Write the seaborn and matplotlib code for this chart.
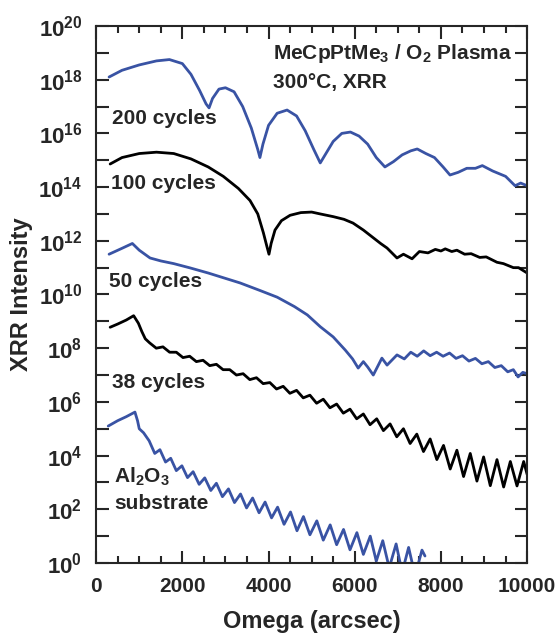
import numpy as np
import pandas as pd
import matplotlib
matplotlib.use("Agg")
import matplotlib.pyplot as plt
import seaborn as sns
from matplotlib.ticker import FixedLocator, MultipleLocator, NullFormatter

# values: omega (arcsec) and log10(intensity)
c200_x = [300, 600, 1000, 1400, 1700, 2000, 2200, 2400, 2550, 2620, 2700, 2850, 3000, 3200, 3400,
          3600, 3750, 3800, 3870, 4000, 4200, 4430, 4650, 4850, 5050, 5200, 5350, 5500, 5700, 5900,
          6100, 6300, 6500, 6700, 6900, 7100, 7300, 7450, 7650, 7850, 8050, 8210, 8400, 8600, 8800,
          8960, 9200, 9500, 9720, 9850, 10000]
c200_log = [18.1, 18.35, 18.55, 18.7, 18.75, 18.6, 18.2, 17.6, 17.1, 16.95, 17.3, 17.65, 17.7, 17.55, 17.0,
            16.2, 15.4, 15.1, 15.6, 16.3, 16.75, 16.87, 16.65, 16.1, 15.4, 14.9, 15.3, 15.7, 16.0, 16.05,
            15.9, 15.6, 15.1, 14.75, 14.95, 15.2, 15.35, 15.42, 15.25, 15.1, 14.75, 14.45, 14.55, 14.7, 14.7,
            14.8, 14.6, 14.4, 14.05, 14.15, 14.05]

c100_x = [325, 600, 1000, 1400, 1800, 2200, 2600, 2950, 3300, 3570, 3750, 3880, 3960, 4010, 4060,
          4150, 4300, 4500, 4750, 5000, 5200, 5500, 5750, 5960, 6200, 6400, 6600, 6750, 6980, 7130,
          7330, 7500, 7700, 7870, 8000, 8100, 8250, 8370, 8550, 8700, 8900, 9050, 9300, 9450, 9680,
          9800, 10000]
c100_log = [14.86, 15.1, 15.25, 15.3, 15.25, 15.05, 14.75, 14.4, 13.95, 13.5, 13.0, 12.3, 11.8, 11.5, 11.9,
            12.4, 12.75, 12.95, 13.05, 13.07, 13.0, 12.9, 12.8, 12.66, 12.4, 12.15, 11.9, 11.73, 11.36, 11.5,
            11.33, 11.6, 11.55, 11.68, 11.62, 11.7, 11.6, 11.65, 11.5, 11.52, 11.38, 11.4, 11.2, 11.15, 11.0,
            11.0, 10.8]

c50_x = [300, 600, 840, 1000, 1250, 1500, 1800, 2180, 2600, 3000, 3340, 3800, 4200, 4600, 4900,
         5200, 5500, 5780, 5950, 6080, 6200, 6300, 6430, 6630, 6750, 6980, 7150, 7300, 7450, 7600,
         7750, 7900, 8050, 8200, 8350, 8500, 8650, 8800, 8950, 9100, 9250, 9400, 9550, 9680, 9790,
         9900, 10000]
c50_log = [11.5, 11.72, 11.9, 11.65, 11.36, 11.25, 11.15, 10.99, 10.8, 10.6, 10.43, 10.15, 9.9, 9.55, 9.24,
           8.8, 8.42, 7.93, 7.6, 7.26, 7.5, 7.3, 7.0, 7.63, 7.37, 7.75, 7.6, 7.85, 7.7, 7.9,
           7.72, 7.85, 7.7, 7.82, 7.62, 7.72, 7.52, 7.62, 7.42, 7.5, 7.28, 7.35, 7.12, 7.2, 6.93,
           7.1, 7.05]

c38_x = [325, 500, 700, 870, 980, 1060, 1140, 1240, 1395, 1550, 1705, 1860, 2015, 2170, 2325,
         2480, 2635, 2790, 2945, 3100, 3255, 3410, 3565, 3720, 3875, 4030, 4185, 4340, 4495, 4650,
         4805, 4960, 5115, 5270, 5425, 5580, 5735, 5890, 6045, 6200, 6355, 6510, 6665, 6820, 6975,
         7130, 7285, 7440, 7595, 7750, 7905, 8060, 8215, 8370, 8525, 8680, 8835, 8990, 9145, 9300,
         9455, 9610, 9765, 9920, 10000]
c38_log = [8.78, 8.9, 9.05, 9.21, 8.93, 8.62, 8.35, 8.2, 8.0, 8.05, 7.85, 7.85, 7.65, 7.7, 7.5,
           7.55, 7.35, 7.4, 7.2, 7.2, 7.0, 7.05, 6.83, 6.9, 6.68, 6.72, 6.48, 6.58, 6.32, 6.43,
           6.15, 6.25, 5.95, 6.1, 5.78, 5.92, 5.58, 5.73, 5.37, 5.55, 5.15, 5.37, 4.93, 5.18, 4.7,
           5.0, 4.45, 4.8, 4.15, 4.62, 3.85, 4.38, 3.5, 4.2, 3.22, 4.08, 3.05, 3.95, 2.88, 3.85,
           2.83, 3.78, 2.87, 3.78, 3.3]

sub_x = [280, 500, 700, 900, 960, 1000, 1100, 1230, 1360, 1480, 1610, 1730, 1860, 1990, 2120,
         2250, 2390, 2520, 2660, 2790, 2930, 3070, 3210, 3350, 3490, 3630, 3780, 3920, 4070, 4210,
         4360, 4510, 4660, 4810, 4960, 5120, 5270, 5430, 5580, 5740, 5890, 6050, 6200, 6360, 6500,
         6650, 6800, 6960, 7100, 7250, 7400, 7560, 7630]
sub_log = [5.1, 5.3, 5.45, 5.62, 5.3, 5.0, 4.85, 4.55, 4.08, 4.22, 3.76, 3.9, 3.44, 3.62, 3.18,
           3.4, 2.93, 3.17, 2.7, 2.97, 2.47, 2.76, 2.25, 2.57, 2.05, 2.42, 1.87, 2.27, 1.68, 2.08,
           1.44, 1.9, 1.2, 1.73, 1.05, 1.57, 0.85, 1.42, 0.68, 1.25, 0.49, 1.13, 0.32, 1.0, 0.07,
           0.83, -0.18, 0.71, -0.35, 0.58, -0.47, 0.48, 0.26]

series = [(c200_x, c200_log, "#3953a4"),
          (c100_x, c100_log, "black"),
          (c50_x, c50_log, "#3953a4"),
          (c38_x, c38_log, "black"),
          (sub_x, sub_log, "#3953a4")]

sns.set_style("ticks")
plt.rcParams["font.family"] = ["Liberation Sans", "DejaVu Sans"]
plt.rcParams["font.weight"] = "bold"
plt.rcParams["mathtext.fontset"] = "custom"
plt.rcParams["mathtext.rm"] = "Liberation Sans:bold"
plt.rcParams["mathtext.bf"] = "Liberation Sans:bold"
plt.rcParams["mathtext.default"] = "bf"

fig = plt.figure(figsize=(5.59, 6.34), dpi=100)
ax = fig.add_axes([0.172, 0.112, 0.771, 0.847])

for xs, logs, col in series:
    df = pd.DataFrame({"omega": xs, "intensity": np.power(10.0, logs)})
    sns.lineplot(data=df, x="omega", y="intensity", color=col, lw=2.0,
                 estimator=None, sort=False, ax=ax)

ax.set_yscale("log")
ax.set_xlim(0, 10000)
ax.set_ylim(1e0, 1e20)

ax.xaxis.set_major_locator(MultipleLocator(2000))
ax.xaxis.set_minor_locator(MultipleLocator(500))
ax.yaxis.set_major_locator(FixedLocator([10.0 ** k for k in range(0, 21, 2)]))
ax.yaxis.set_minor_locator(FixedLocator([10.0 ** k for k in range(1, 21, 2)]))
ax.yaxis.set_minor_formatter(NullFormatter())
ax.set_yticklabels([r"$10^{%d}$" % k for k in range(0, 21, 2)])
ax.set_xticks([0, 2000, 4000, 6000, 8000, 10000])
ax.set_xticklabels(["0", "2000", "4000", "6000", "8000", "10000"])

ax.tick_params(which="both", direction="in", top=True, right=True, width=1.5)
ax.tick_params(axis="y", which="both", length=9, labelsize=16, pad=10)
ax.tick_params(axis="x", which="major", length=9, labelsize=15, pad=10)
ax.tick_params(axis="x", which="minor", length=5)
for s in ax.spines.values():
    s.set_linewidth(1.5)

ax.set_xlabel("Omega (arcsec)", fontsize=17, fontweight="bold", labelpad=10)
ax.set_ylabel("XRR Intensity", fontsize=17, fontweight="bold", labelpad=4)
if ax.get_legend() is not None:
    ax.get_legend().remove()

lab = dict(fontsize=15, fontweight="bold", va="center", ha="left")
ax.text(370, 10 ** 16.57, "200 cycles", **lab)
ax.text(350, 10 ** 14.15, "100 cycles", **lab)
ax.text(300, 10 ** 10.47, "50 cycles", **lab)
ax.text(370, 10 ** 6.74, "38 cycles", **lab)
ax.text(420, 10 ** 3.2, r"Al$_2$O$_3$", **lab)
ax.text(420, 10 ** 2.2, "substrate", **lab)
ax.text(4100, 10 ** 18.99, r"MeCpPtMe$_3$ / O$_2$ Plasma", **lab)
ax.text(4100, 10 ** 17.9, "300°C, XRR", **lab)

fig.savefig("out.png", dpi=100)
